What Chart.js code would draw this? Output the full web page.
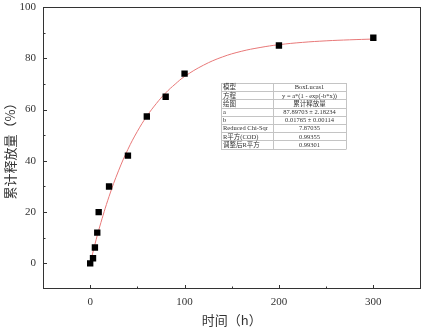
<!DOCTYPE html>
<html>
<head>
<meta charset="utf-8">
<script src="https://cdn.jsdelivr.net/npm/chart.js@4.4.1/dist/chart.umd.min.js"></script>
<style>
  html, body { margin: 0; padding: 0; background: #fff; }
</style>
</head>
<body>
<canvas id="releaseChart" width="425" height="328"></canvas>
<script>
// 實驗數據：時間(h) 與 累計釋放量(%)
const times = [0, 3, 5, 7.5, 9, 20, 40, 60, 80, 100, 200, 300];
const released = [0, 2, 6.2, 12, 20, 30, 42, 57.3, 65, 74, 85, 88];

// 擬合曲線 (BoxLucas1) 讀圖取點
const fitX = [0, 5, 10, 20, 30, 40, 50, 60, 70, 80, 90, 100, 120, 140, 160, 180, 200, 225, 250, 275, 300];
const fitY = [0, 7.4, 14.2, 26.1, 36.1, 44.5, 51.5, 57.4, 62.3, 66.5, 69.9, 72.9, 77.3, 80.5, 82.7, 84.2, 85.3, 86.2, 86.8, 87.2, 87.5];

// 擬合結果表
const tableLabels = ['模型', '方程', '绘图', 'a', 'b', 'Reduced Chi-Sqr', 'R平方(COD)', '调整后R平方'];
const tableValues = ['BoxLucas1', 'y = a*(1 - exp(-b*x))', '累计释放量', '87.89703 ± 2.18234', '0.01765 ± 0.00114', '7.87035', '0.99355', '0.99301'];

const serif = '"Liberation Serif", "DejaVu Serif", serif';
const cjk = '"Noto Sans CJK SC", sans-serif';

// 畫框線與向內刻度
const frameTicks = {
    id: 'frameTicks',
    afterDraw(chart) {
        const c = chart.ctx;
        const a = chart.chartArea;
        c.save();
        c.strokeStyle = '#333';
        c.lineWidth = 1;
        c.strokeRect(Math.round(a.left) + 0.5, Math.round(a.top) + 0.5,
                     Math.round(a.right - a.left) - 1, Math.round(a.bottom - a.top) - 1);
        const xs = chart.scales.x, ys = chart.scales.y;
        c.beginPath();
        xs.ticks.forEach(t => {
            if (t.value <= -50 || t.value >= 350) return;
            const px = Math.round(xs.getPixelForValue(t.value)) + 0.5;
            const len = t.value % 100 === 0 ? 4 : 2.5;
            c.moveTo(px, a.bottom);
            c.lineTo(px, a.bottom - len);
        });
        ys.ticks.forEach(t => {
            if (t.value <= -10 || t.value >= 100) return;
            const py = Math.round(ys.getPixelForValue(t.value)) + 0.5;
            const len = t.value % 20 === 0 ? 4 : 2.5;
            c.moveTo(a.left, py);
            c.lineTo(a.left + len, py);
        });
        c.stroke();
        c.restore();
    }
};

// 擬合參數表
const fitTable = {
    id: 'fitTable',
    afterDraw(chart) {
        const c = chart.ctx;
        const left = 221, top = 83, split = 273, right = 346, rowH = 8.2;
        const bottom = top + rowH * tableLabels.length;
        c.save();
        c.fillStyle = '#fff';
        c.fillRect(left, top, right - left, bottom - top);
        c.strokeStyle = '#c4c4c4';
        c.lineWidth = 1;
        c.beginPath();
        for (let i = 0; i <= tableLabels.length; i++) {
            const y = Math.round(top + i * rowH) + 0.5;
            c.moveTo(left, y); c.lineTo(right, y);
        }
        [left, split, right].forEach(x => { c.moveTo(x + 0.5, top); c.lineTo(x + 0.5, Math.round(bottom) + 0.5); });
        c.stroke();
        c.fillStyle = '#333';
        c.font = '6.5px "Liberation Serif", "Noto Sans CJK SC", serif';
        c.textBaseline = 'middle';
        tableLabels.forEach((lab, i) => {
            const y = top + (i + 0.5) * rowH + 0.5;
            c.textAlign = 'left';
            c.fillText(lab, left + 2, y);
            c.textAlign = 'center';
            c.fillText(tableValues[i], (split + right) / 2, y);
        });
        c.restore();
    }
};

const ctx = document.getElementById('releaseChart').getContext('2d');
const chart = new Chart(ctx, {
    type: 'scatter',
    data: {
        datasets: [{
            type: 'line',
            label: 'fit',
            data: fitX.map((x, i) => ({ x: x, y: fitY[i] })),
            borderColor: '#e87878',
            borderWidth: 1,
            pointRadius: 0,
            tension: 0.4,
            fill: false,
            order: 2
        }, {
            label: '累计释放量',
            data: times.map((x, i) => ({ x: x, y: released[i] })),
            pointStyle: 'rect',
            pointRadius: 4.5,
            backgroundColor: '#000',
            borderColor: '#000',
            borderWidth: 0,
            order: 1
        }]
    },
    options: {
        responsive: false,
        animation: false,
        layout: { padding: { left: 2, right: 3, top: 7, bottom: 0 } },
        plugins: {
            legend: { display: false },
            tooltip: { enabled: false }
        },
        scales: {
            x: {
                type: 'linear',
                min: -50,
                max: 350,
                afterFit: s => { s.height = 39; s.paddingLeft = 0; s.paddingRight = 0; },
                grid: { display: false, drawTicks: false },
                border: { display: false },
                ticks: {
                    stepSize: 50,
                    autoSkip: false,
                    maxRotation: 0,
                    padding: 7,
                    color: '#333',
                    font: { family: serif, size: 11 },
                    callback: v => (v % 100 === 0 && v >= 0 && v <= 300) ? String(v) : ''
                },
                title: {
                    display: true,
                    text: '时间（h）',
                    color: '#333',
                    font: { family: cjk, size: 13 },
                    padding: 0
                }
            },
            y: {
                type: 'linear',
                min: -10,
                max: 100,
                afterFit: s => { s.width = 41; s.paddingTop = 0; s.paddingBottom = 0; },
                grid: { display: false, drawTicks: false },
                border: { display: false },
                ticks: {
                    stepSize: 10,
                    autoSkip: false,
                    padding: 7,
                    color: '#333',
                    font: { family: serif, size: 11 },
                    callback: v => (v % 20 === 0 && v >= 0) ? String(v) : ''
                },
                title: {
                    display: true,
                    text: '累计释放量（%）',
                    color: '#333',
                    font: { family: cjk, size: 13 },
                    padding: 0
                }
            }
        }
    },
    plugins: [frameTicks, fitTable]
});
</script>
</body>
</html>
